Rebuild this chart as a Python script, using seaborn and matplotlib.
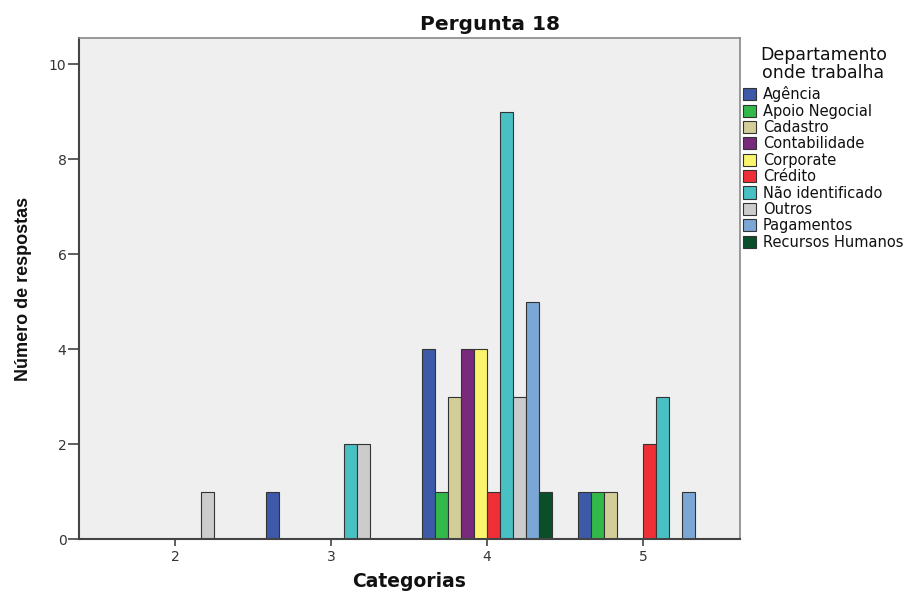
import matplotlib
matplotlib.use("Agg")
import matplotlib.pyplot as plt
import seaborn as sns
import pandas as pd
from matplotlib.patches import Patch

categorias = ["2", "3", "4", "5"]
departamentos = ["Agência", "Apoio Negocial", "Cadastro", "Contabilidade", "Corporate",
                 "Crédito", "Não identificado", "Outros", "Pagamentos", "Recursos Humanos"]
cores = ["#3d5aa8", "#33b94a", "#d3ce97", "#782a7d", "#fbf56d",
         "#ee2f36", "#48c0c4", "#cccccc", "#7ba7d7", "#0a4f2a"]

# respostas por departamento, na ordem das categorias 2, 3, 4, 5
agencia = [0, 1, 4, 1]
apoio_negocial = [0, 0, 1, 1]
cadastro = [0, 0, 3, 1]
contabilidade = [0, 0, 4, 0]
corporate = [0, 0, 4, 0]
credito = [0, 0, 1, 2]
nao_identificado = [0, 2, 9, 3]
outros = [1, 2, 3, 0]
pagamentos = [0, 0, 5, 1]
recursos_humanos = [0, 0, 1, 0]

series = [agencia, apoio_negocial, cadastro, contabilidade, corporate,
          credito, nao_identificado, outros, pagamentos, recursos_humanos]

linhas = []
for dep, vals in zip(departamentos, series):
    for cat, v in zip(categorias, vals):
        linhas.append({"Categorias": cat, "Departamento": dep, "Respostas": v})
df = pd.DataFrame(linhas)

sns.set_style("white")
plt.rcParams["font.family"] = ["DejaVu Sans"]

fig = plt.figure(figsize=(9.17, 5.95), dpi=100)
ax = fig.add_axes([0.0861, 0.0941, 0.7209, 0.8420])
ax.set_facecolor("#efefef")

sns.barplot(data=df, x="Categorias", y="Respostas", hue="Departamento",
            order=categorias, hue_order=departamentos, palette=cores,
            saturation=1, width=0.833, gap=0, edgecolor="#333333",
            linewidth=0.8, legend=False, ax=ax)

ax.set_xlim(-0.615, 3.62)
ax.set_ylim(0, 10.55)
ax.set_yticks([0, 2, 4, 6, 8, 10])
ax.tick_params(axis="both", direction="out", bottom=True, left=True,
               width=1.2, color="#444444", labelsize=10, labelcolor="#333333")
ax.tick_params(axis="y", length=8, pad=1)
ax.tick_params(axis="x", length=5, pad=3)

for s in ["left", "bottom"]:
    ax.spines[s].set_color("#444444")
    ax.spines[s].set_linewidth(1.5)
for s in ["top", "right"]:
    ax.spines[s].set_color("#888888")
    ax.spines[s].set_linewidth(1.2)

fig.text(0.534, 0.958, "Pergunta 18", fontsize=14.5, fontweight="bold",
         ha="center", va="center", color="#111111")
ax.set_xlabel("Categorias", fontsize=13.5, fontweight="bold", color="#111111",
              va="center")
ax.xaxis.set_label_coords(0.5, -0.084)
ax.set_ylabel("Número de respostas", fontsize=13, fontweight="bold",
              family=["Liberation Sans Narrow", "Liberation Sans"], labelpad=12,
              color="#111111")

handles = [Patch(facecolor=c, edgecolor="#333333", linewidth=0.8) for c in cores]
leg = fig.legend(handles, departamentos, loc="upper left",
                 bbox_to_anchor=(0.809, 0.925), frameon=False,
                 title="Departamento\nonde trabalha", title_fontsize=12.5,
                 fontsize=10.5, handlelength=0.9, handleheight=0.9,
                 handletextpad=0.45, labelspacing=0.095, borderaxespad=0,
                 borderpad=0.1)
leg.get_title().set_multialignment("center")
leg.get_title().set_linespacing(1.0)
leg.get_title().set_color("#111111")
leg._legend_box.sep = 3
for t in leg.get_texts():
    t.set_color("#111111")

fig.savefig("out.png", dpi=100)
